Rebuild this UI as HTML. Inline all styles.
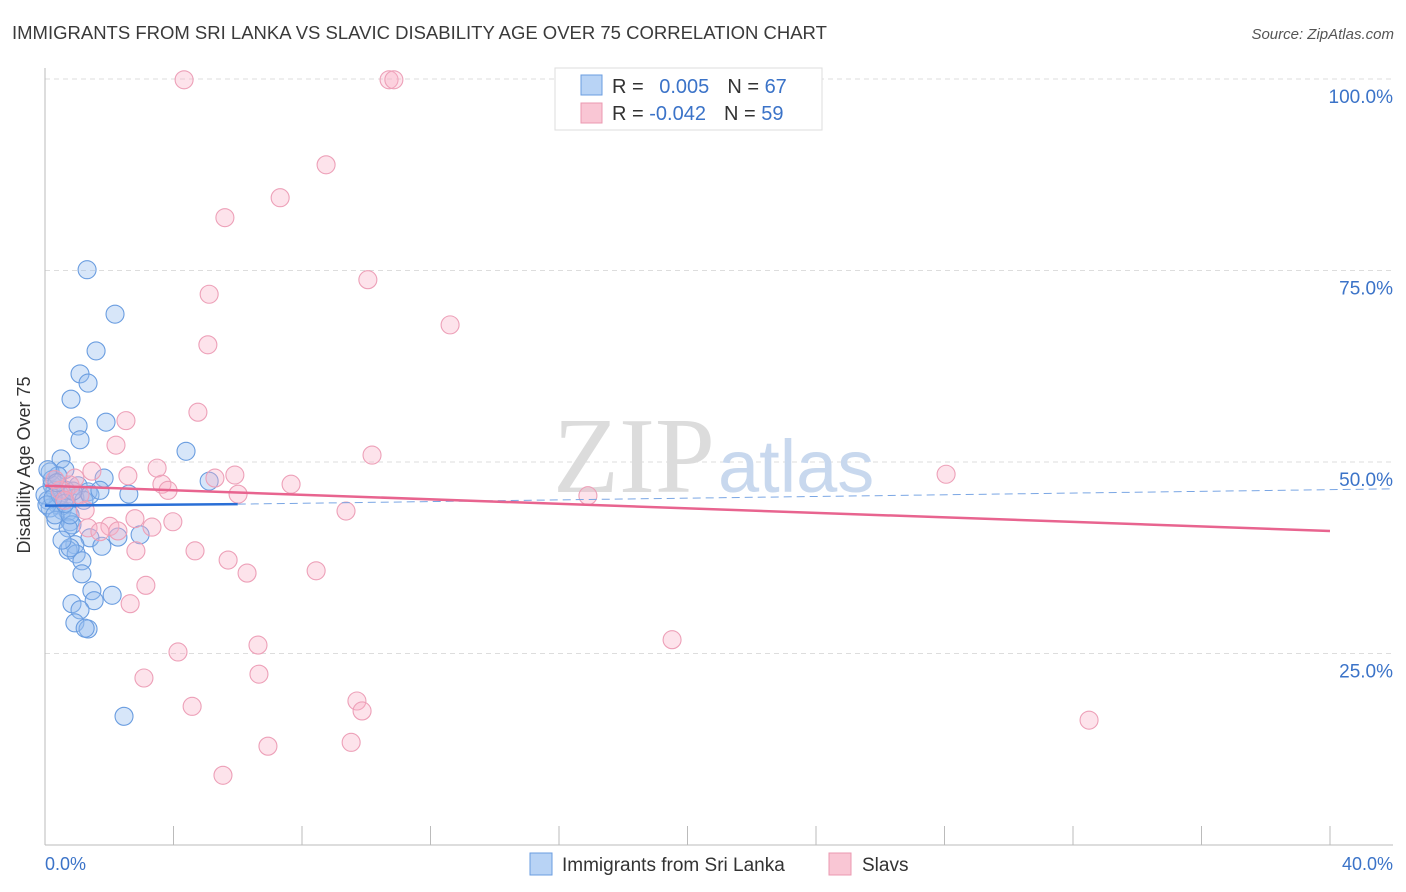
<!DOCTYPE html>
<html><head><meta charset="utf-8"><style>
body{margin:0;background:#fff;font-family:"Liberation Sans",sans-serif}
svg{display:block}
</style></head><body>
<svg id="c" width="1406" height="892" xmlns="http://www.w3.org/2000/svg">
<text x="12" y="39" font-size="18.5" fill="#3a3a3a">IMMIGRANTS FROM SRI LANKA VS SLAVIC DISABILITY AGE OVER 75 CORRELATION CHART</text>
<text x="1394" y="39" font-size="15" font-style="italic" fill="#555" text-anchor="end">Source: ZipAtlas.com</text>
<g id="grid"></g>
<g>
<text x="553" y="492" font-family="Liberation Serif,serif" font-size="108" fill="#dcdcdc">ZIP</text>
<text x="718" y="492" font-size="74" fill="#c8d8ee">atlas</text>
</g>
<line x1="45" y1="68" x2="45" y2="845" stroke="#bbb"/>
<line x1="45" y1="845" x2="1393" y2="845" stroke="#bbb"/>
<g id="ticks"></g>
<g id="pts"></g>
<g id="trend"></g>
<text x="20" y="455" font-size="18" fill="#333" transform="rotate(-90 30 455)" text-anchor="middle">Disability Age Over 75</text>
<text x="45" y="870" font-size="18" fill="#3b73c8">0.0%</text>
<text x="1393" y="870" font-size="18" fill="#3b73c8" text-anchor="end">40.0%</text>
<g>
<rect x="555" y="68" width="267" height="62" fill="#fff" stroke="#ddd"/>
<rect x="581" y="75" width="21" height="20" fill="#b8d3f5" stroke="#6a9de0"/>
<rect x="581" y="103" width="21" height="20" fill="#f9c6d4" stroke="#eb98b0"/>
<text x="612" y="93" font-size="20" fill="#333">R = <tspan fill="#3b73c8" dx="10">0.005</tspan><tspan dx="18" fill="#333">N = </tspan><tspan fill="#3b73c8">67</tspan></text>
<text x="612" y="120" font-size="20" fill="#333">R = <tspan fill="#3b73c8">-0.042</tspan><tspan dx="18" fill="#333">N = </tspan><tspan fill="#3b73c8">59</tspan></text>
</g>
<g>
<rect x="530" y="853" width="22" height="22" fill="#b8d3f5" stroke="#6a9de0"/>
<text x="562" y="871" font-size="19" fill="#333">Immigrants from Sri Lanka</text>
<rect x="829" y="853" width="22" height="22" fill="#f9c6d4" stroke="#eb98b0"/>
<text x="862" y="871" font-size="19" fill="#333">Slavs</text>
</g>
</svg>
<script>
const yTicks=[25,50,75,100];
const yTickLabels=["25.0%","50.0%","75.0%","100.0%"];
const xTicks=[0,4,8,12,16,20,24,28,32,36,40];
const blueX=[1.31,2.18,1.59,1.09,1.34,0.81,1.03,1.90,1.09,4.39,0.50,0.62,1.84,5.11,1.03,1.34,2.61,0.16,0.22,0.31,0.09,0.40,0.53,0.72,0.16,0.34,0.78,0.84,0.72,0.93,1.21,2.96,2.27,1.40,0.93,1.77,0.72,0.97,1.15,0.78,1.15,2.09,1.46,1.53,0.84,1.09,0.93,1.34,1.25,2.46,0,0.06,0.47,0.59,0.31,0.65,0.22,0.40,1.40,1.71,0.78,0.53,0.09,0.25,0.62,0.37,0.87];
const blueY=[75.1,69.3,64.5,61.5,60.3,58.2,54.7,55.2,52.9,51.4,50.4,49.0,47.9,47.5,46.9,46.1,45.8,48.7,47.0,46.3,45.0,44.4,43.7,43.5,44.0,42.4,42.2,41.8,41.4,45.3,45.0,40.5,40.2,40.1,39.2,39.0,38.5,38.0,37.1,38.8,35.4,32.6,33.2,31.9,31.5,30.7,29.0,28.2,28.3,16.8,45.7,44.4,45.7,45.0,43.1,46.3,47.7,48.2,45.7,46.3,43.1,39.8,49.0,45.3,44.6,47.3,46.2];
const pinkX=[4.33,10.71,10.86,8.75,7.32,5.60,10.05,5.11,12.61,5.07,4.76,2.52,2.21,10.18,3.49,5.91,5.29,1.46,2.58,3.64,3.83,7.66,6.01,16.90,28.05,9.37,2.80,2.02,3.98,3.33,2.27,1.34,1.71,2.83,4.67,5.70,6.29,8.44,3.14,2.65,6.63,4.14,19.52,6.66,3.08,4.58,9.71,9.87,6.94,9.53,5.54,32.50,0.47,0.78,1.09,0.31,0.62,0.93,1.25];
const pinkY=[99.9,99.9,99.9,88.8,84.5,81.9,73.8,71.9,67.9,65.3,56.5,55.4,52.2,50.9,49.2,48.3,47.9,48.8,48.2,47.1,46.3,47.1,45.8,45.6,48.4,43.6,42.6,41.6,42.2,41.5,41.0,41.4,40.9,38.4,38.4,37.2,35.5,35.8,33.9,31.5,26.1,25.2,26.8,22.3,21.8,18.1,18.8,17.5,12.9,13.4,9.1,16.3,46.3,47.0,45.7,47.7,45.0,47.9,43.7];
const blueTrend=[[0,44.3],[6,44.5],[42,46.5]];
const pinkTrend=[[0,46.9],[40,41.0]];
const NS="http://www.w3.org/2000/svg";
const sx=v=>45+v/40*1285, sy=v=>845-v/100*766;
function mk(t,a,p){const e=document.createElementNS(NS,t);for(const k in a)e.setAttribute(k,a[k]);p.appendChild(e);return e;}
const grid=document.getElementById('grid');
yTicks.forEach((v,i)=>{
 const l=mk('line',{x1:45,x2:1393,y1:sy(v),y2:sy(v),stroke:'#ddd','stroke-dasharray':'5,4'},grid);
 
 
 const t=mk('text',{x:1393,y:sy(v)+24,'font-size':19,fill:'#3b73c8','text-anchor':'end'},grid);
 t.textContent=yTickLabels[i];
 
 
});
const ticks=document.getElementById('ticks');
xTicks.forEach(v=>{const l=mk('line',{x1:sx(v),x2:sx(v),y1:826,y2:845,stroke:'#bbb'},ticks);
 
 });
const pts=document.getElementById('pts');
function dots(X,Y,fill,stroke,name){X.forEach((x,i)=>{const c=mk('circle',{cx:sx(x),cy:sy(Y[i]),r:9,fill:fill,stroke:stroke,'stroke-width':1.1},pts);
 
 });}
dots(blueX,blueY,'rgba(150,190,240,0.38)','#6a9de0','sri-lanka-point');
dots(pinkX,pinkY,'rgba(248,175,198,0.35)','#eda0b8','slavs-point');
const tr=document.getElementById('trend');
let b1=mk('line',{x1:sx(blueTrend[0][0]),y1:sy(blueTrend[0][1]),x2:sx(blueTrend[1][0]),y2:sy(blueTrend[1][1]),stroke:'#2a6fd6','stroke-width':2.5},tr);


let b2=mk('line',{x1:sx(blueTrend[1][0]),y1:sy(blueTrend[1][1]),x2:sx(blueTrend[2][0]),y2:sy(blueTrend[2][1]),stroke:'#7aa6e4','stroke-width':1,'stroke-dasharray':'8,5'},tr);


let p1=mk('line',{x1:sx(pinkTrend[0][0]),y1:sy(pinkTrend[0][1]),x2:sx(pinkTrend[1][0]),y2:sy(pinkTrend[1][1]),stroke:'#e8648f','stroke-width':2.5},tr);


</script>
</body></html>
